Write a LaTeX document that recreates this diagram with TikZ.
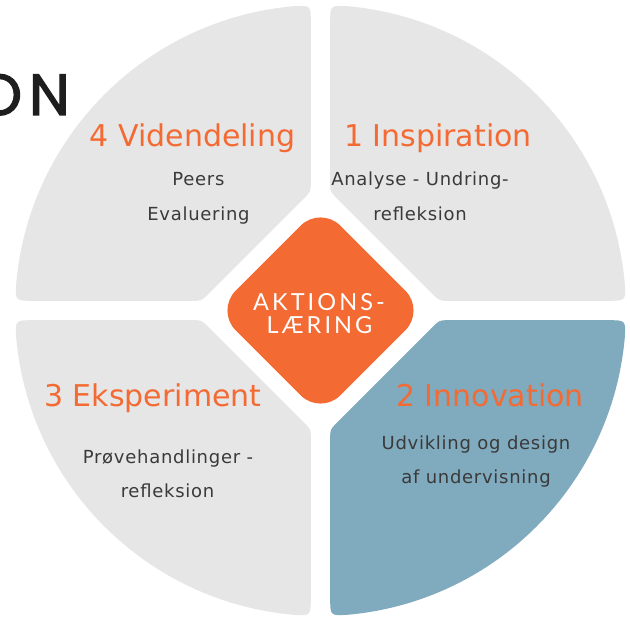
\documentclass[tikz,border=0pt]{standalone}
\usepackage{fontspec}
\setmainfont{DejaVu Sans}
\newfontfamily\headfont{DejaVu Sans}
\newfontfamily\bodyfont{DejaVu Sans}[LetterSpace=4]
\newfontfamily\hubfont{Lato}[LetterSpace=13]
\newfontfamily\bigfont{Poppins}[LetterSpace=12, FakeBold=2]

\definecolor{sliceGray}{HTML}{E6E6E6}
\definecolor{sliceBlue}{HTML}{80AABD}
\definecolor{accent}{HTML}{F46A33}
\definecolor{inkDark}{HTML}{3A3A3A}
\definecolor{inkBlack}{HTML}{1E1E1E}

% one quarter of the ring (upper left), rounded at every corner
\newcommand\slicepath{(-9.7,287.35) -- (-9.7,128) .. controls (-9.7,119) .. (-16.06,112.64)
  -- (-112.64,16.06) .. controls (-119,9.7) .. (-128,9.7)
  -- (-287.35,9.7) .. controls (-305.35,9.7) .. (174.8:305.5)
  arc[start angle=174.8, end angle=95.2, radius=305.5]
  .. controls (-9.7,305.35) .. (-9.7,287.35) -- cycle}

\tikzset{
  hub/.style={fill=accent, rotate=45, rounded corners=28pt, minimum size=148pt, inner sep=0pt},
  hubtext/.style={text=white, anchor=base, inner sep=0pt, font=\hubfont\fontsize{23.5}{28}\selectfont},
  phase/.style={text=accent, anchor=base, inner sep=0pt, font=\headfont\fontsize{30}{36}\selectfont},
  detail/.style={text=inkDark, anchor=base, inner sep=0pt, font=\bodyfont\fontsize{18}{22}\selectfont},
  bigword/.style={text=inkBlack, anchor=base east, inner sep=0pt, font=\bigfont\fontsize{58}{66}\selectfont},
}

\begin{document}
\begin{tikzpicture}[x=1pt, y=1pt]
  \useasboundingbox (-320.5,-308.5) rectangle (309.5,310.5);
  \fill[white] (-320.5,-308.5) rectangle (309.5,310.5);

  % the four quarters of the ring
  \fill[sliceGray] \slicepath;
  \begin{scope}[xscale=-1]
    \fill[sliceGray] \slicepath;
  \end{scope}
  \begin{scope}[yscale=-1]
    \fill[sliceGray] \slicepath;
  \end{scope}
  \begin{scope}[xscale=-1, yscale=-1]
    \fill[sliceBlue] \slicepath;
  \end{scope}

  % centre
  \node[hub] (hub) at (0,0) {};
  \node[hubtext] (hubA) at (-1.5,0.5) {AKTIONS-};
  \node[hubtext] (hubB) at (-1,-22.8) {LÆRING};

  % heading fragment
  \node[bigword] (word) at (-250.5,195.5) {ON};

  % 4 Videndeling
  \node[phase] (p4) at (-128,163.8) {4 Videndeling};
  \node[detail] (p4a) at (-122,124.8) {Peers};
  \node[detail] (p4b) at (-122,90) {Evaluering};

  % 1 Inspiration
  \node[phase] (p1) at (117.5,163.8) {1 Inspiration};
  \node[detail] (p1a) at (99.5,124.8) {Analyse - Undring-};
  \node[detail] (p1b) at (99.5,90) {refleksion};

  % 3 Eksperiment
  \node[phase] (p3) at (-167.5,-96.2) {3 Eksperiment};
  \node[detail] (p3a) at (-152.5,-152.5) {Prøvehandlinger -};
  \node[detail] (p3b) at (-153,-187.2) {refleksion};

  % 2 Innovation
  \node[phase] (p2) at (169.5,-96.2) {2 Innovation};
  \node[detail] (p2a) at (155.5,-138.5) {Udvikling og design};
  \node[detail] (p2b) at (155.5,-172.5) {af undervisning};
\end{tikzpicture}
\end{document}
